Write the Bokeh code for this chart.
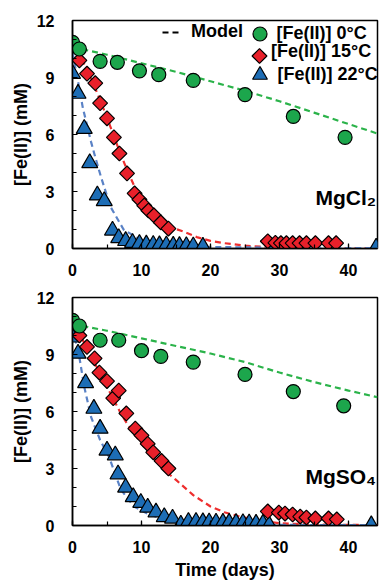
import math
from bokeh.plotting import figure
from bokeh.models import Legend, LegendItem, FixedTicker, Label, Range1d
from bokeh.layouts import column
from bokeh.embed import file_html
from bokeh.resources import INLINE

FONT = "Liberation Sans"

# ---------------- data ----------------
X_TICKS = [0, 10, 20, 30, 40]
X_MINOR = [0, 5, 10, 15, 20, 25, 30, 35, 40]
Y_TICKS = [0, 3, 6, 9, 12]
Y_MINOR = [0, 1, 2, 3, 4, 5, 6, 7, 8, 9, 10, 11, 12]

# MgCl2 panel
cl_t0 = [0, 1, 4, 6.5, 9.7, 12.5, 17.5, 25, 32, 39.5]
cl_fe0 = [10.85, 10.5, 9.85, 9.8, 9.35, 9.15, 8.85, 8.1, 6.95, 5.85]
cl_t15 = [0, 1, 2.1, 3.3, 4, 5, 6, 6.8, 7.9, 9, 9.7, 10.4, 11, 11.8, 12.8, 13.9,
          28.3, 29.4, 30.2, 31, 31.9, 32.9, 33.9, 35.2, 37.1, 38.2]
cl_fe15 = [10.85, 9.9, 9.2, 8.7, 7.65, 6.85, 5.85, 5.0, 3.95, 2.9, 2.58, 2.26, 2.0, 1.74, 1.37, 1.05,
           0.38, 0.3, 0.28, 0.28, 0.28, 0.28, 0.28, 0.28, 0.28, 0.28]
cl_t22 = [0, 0.8, 1.7, 2.5, 3.6, 4.6, 5.8, 6.7, 7.7, 8.7, 9.7, 10.7, 11.7, 12.6, 13.6, 14.6,
          15.5, 16.5, 17.5, 18.9, 29, 44]
cl_fe22 = [9.2, 8.15, 6.3, 4.5, 2.8, 2.5, 0.95, 0.55, 0.4, 0.3, 0.25, 0.22, 0.2, 0.18, 0.17, 0.15,
           0.14, 0.13, 0.12, 0.1, 0.05, 0.05]
cl_m0_t = [0, 5, 10, 15, 20, 25, 30, 35, 40, 44.2]
cl_m0 = [10.6, 10.2, 9.75, 9.3, 8.8, 8.3, 7.75, 7.15, 6.55, 6.05]
cl_m15_t = [0, 1, 2, 3, 4, 5, 6, 7, 8, 9, 10, 11, 12, 13, 14, 16, 18, 20, 22, 25, 28, 32, 36, 44.2]
cl_m15 = [10.9, 10.2, 9.5, 8.7, 7.8, 6.9, 5.9, 4.95, 4.05, 3.25, 2.6, 2.1, 1.7, 1.4, 1.15, 0.9,
          0.6, 0.4, 0.28, 0.15, 0.08, 0.04, 0.03, 0.02]
cl_m22_t = [0, 0.8, 1.5, 2.7, 3.3, 4.1, 5.5, 7.4, 9.4, 12, 15, 20, 30, 44.2]
cl_m22 = [10.3, 8.8, 7.4, 5.6, 4.8, 3.8, 2.2, 1.0, 0.55, 0.3, 0.15, 0.08, 0.04, 0.02]

# MgSO4 panel
so_t0 = [0, 1, 4, 6.7, 10, 12.8, 17.5, 25, 32, 39.3]
so_fe0 = [10.8, 10.5, 9.75, 9.75, 9.2, 8.9, 8.6, 7.95, 7.05, 6.3]
so_t15 = [0, 1, 2.1, 3.2, 3.9, 5, 5.9, 6.7, 7.8, 9.1, 10, 10.9, 11.7, 12.9, 13.9,
          28.3, 29.9, 30.8, 31.9, 33, 33.9, 35.2, 37.1, 38.3]
so_fe15 = [10.75, 10.0, 9.4, 8.8, 8.05, 7.6, 6.7, 7.1, 5.9, 5.1, 4.74, 4.3, 3.85, 3.4, 3.0,
           0.74, 0.68, 0.63, 0.58, 0.47, 0.42, 0.37, 0.37, 0.32]
so_t22 = [0, 0.8, 1.9, 3.1, 4, 5, 6.2, 6.6, 7.7, 8.8, 9.9, 10.9, 12.1, 13.3, 14.5, 15.7, 16.8,
          17.9, 18.9, 19.8, 20.8, 21.8, 22.7, 23.7, 24.7, 25.6, 26.6, 27.6, 28.5, 43.3]
so_fe22 = [9.9, 9.05, 7.5, 6.15, 5.1, 3.95, 3.7, 2.7, 2.0, 1.5, 1.2, 0.95, 0.7, 0.45, 0.37, 0.05, 0.2,
           0.2, 0.18, 0.17, 0.16, 0.15, 0.15, 0.14, 0.13, 0.12, 0.1, 0.1, 0.02, 0.02]
so_m0_t = [0, 5, 10, 15, 20, 25, 30, 35, 40, 44.2]
so_m0 = [10.6, 10.25, 9.85, 9.45, 9.05, 8.6, 8.05, 7.55, 7.1, 6.75]
so_m15_t = [0, 1, 2, 3, 4, 5, 6, 7, 8, 9, 10, 11, 12, 13, 14, 15, 17.5, 20, 22, 24, 27, 30, 35, 44.2]
so_m15 = [10.8, 10.1, 9.4, 8.7, 8.0, 7.3, 6.6, 5.9, 5.3, 4.8, 4.3, 3.85, 3.45, 3.05, 2.7, 2.4,
          1.6, 1.0, 0.7, 0.5, 0.25, 0.12, 0.05, 0.02]
so_m22_t = [0, 1, 1.7, 2.7, 4, 5.3, 7, 8.9, 11, 13, 16, 20, 25, 30, 44.2]
so_m22 = [10.4, 8.85, 7.3, 5.7, 4.5, 3.6, 1.9, 1.0, 0.6, 0.35, 0.2, 0.12, 0.06, 0.03, 0.02]

LEGEND_LABELS = ["[Fe(II)] 0°C", "[Fe(II)] 15°C", "[Fe(II)] 22°C"]

GREEN = "#1ca64c"
RED = "#e8202a"
BLUE = "#1d6db5"
GREEN_L = "#2bb34a"
RED_L = "#ee2e2e"
BLUE_L = "#5a82c6"

FRAME_W = 305
FRAME_H = 228
NAN = float("nan")


def make_panel(height, top, bottom, series, salt, salt_y, xlabel=None, legend=False):
    p = figure(width=384, height=height, x_range=Range1d(0, 44.2), y_range=Range1d(0, 12),
               output_backend="svg", toolbar_location=None,
               min_border_left=72, min_border_right=7, min_border_top=top, min_border_bottom=bottom)
    p.xgrid.visible = False
    p.ygrid.visible = False
    p.outline_line_color = "black"
    p.outline_line_width = 1.5
    p.outline_line_alpha = 1
    p.background_fill_color = "white"
    p.border_fill_color = "white"

    for ax in (p.xaxis[0], p.yaxis[0]):
        ax.axis_line_color = "black"
        ax.axis_line_width = 1.5
        ax.major_tick_in = 5
        ax.major_tick_out = 0
        ax.minor_tick_in = 4
        ax.minor_tick_out = 0
        ax.major_tick_line_width = 1.2
        ax.minor_tick_line_width = 1.2
        ax.major_label_text_font = FONT
        ax.major_label_text_font_style = "bold"
        ax.major_label_text_font_size = "16px"
        ax.major_label_text_color = "black"
        ax.axis_label_text_font = FONT
        ax.axis_label_text_font_style = "bold"
        ax.axis_label_text_font_size = "18px"
        ax.axis_label_text_color = "black"
    p.xaxis.ticker = FixedTicker(ticks=X_TICKS, minor_ticks=X_MINOR)
    p.yaxis.ticker = FixedTicker(ticks=Y_TICKS, minor_ticks=Y_MINOR)
    p.yaxis.major_label_standoff = 18
    p.xaxis.major_label_standoff = 15
    p.yaxis.axis_label = "[Fe(II)] (mM)"
    p.yaxis.axis_label_standoff = 3
    if xlabel:
        p.xaxis.axis_label = xlabel
        p.xaxis.axis_label_standoff = 4

    (m0t, m0), (m15t, m15), (m22t, m22), (t0, f0), (t15, f15), (t22, f22) = series
    p.line(m0t, m0, line_color=GREEN_L, line_width=2.2, line_dash="6 4")
    p.line(m15t, m15, line_color=RED_L, line_width=2.2, line_dash="6 4")
    p.line(m22t, m22, line_color=BLUE_L, line_width=2.2, line_dash="6 4")

    r22 = p.scatter(t22, f22, marker="triangle", size=16, fill_color=BLUE,
                    line_color="black", line_width=1.2)
    p.scatter(t15, f15, marker="square", size=10.5, angle=math.pi / 4, fill_color=RED,
              line_color="black", line_width=1.2)
    r0 = p.scatter(t0, f0, marker="circle", size=14, fill_color=GREEN,
                   line_color="black", line_width=1.2)

    p.add_layout(Label(x=44, y=salt_y, text=salt, text_align="right", text_baseline="alphabetic",
                       text_font=FONT, text_font_style="bold", text_font_size="21px",
                       text_color="black"))

    if legend:
        model_r = p.line([NAN], [NAN], line_color="black", line_width=2.2, line_dash="6 4")
        dummy_r = p.scatter([NAN], [NAN], marker="square", size=1, fill_alpha=0, line_alpha=0)

        def mk(items, vx, vy, gw, gh, standoff):
            lg = Legend(items=items, location=(vx, vy), glyph_width=gw, glyph_height=gh,
                        label_standoff=standoff, padding=0, margin=0, spacing=0,
                        label_height=10, label_width=10,
                        background_fill_alpha=0, border_line_alpha=0,
                        label_text_font=FONT, label_text_font_style="bold",
                        label_text_font_size="18px", label_text_color="black")
            p.add_layout(lg)

        mk([LegendItem(label="Model", renderers=[model_r])], 90, 206, 20, 20, 9)
        mk([LegendItem(label=LEGEND_LABELS[0], renderers=[r0])], 169.5, 197.5, 35, 35, -5)
        mk([LegendItem(label=LEGEND_LABELS[1], renderers=[dummy_r])], 179, 186, 20, 20, 0)
        mk([LegendItem(label=LEGEND_LABELS[2], renderers=[r22])], 168.5, 155, 37, 37, -6)

        # rotated-square key for the 15 °C entry, placed in frame-pixel space
        p.extra_x_ranges = {"lx": Range1d(0, FRAME_W)}
        p.extra_y_ranges = {"ly": Range1d(0, FRAME_H)}
        p.scatter([187], [192.5], x_range_name="lx", y_range_name="ly",
                  marker="square", size=10.5, angle=math.pi / 4, fill_color=RED,
                  line_color="black", line_width=1.2)
    return p


p1 = make_panel(288, 20, 40,
                [(cl_m0_t, cl_m0), (cl_m15_t, cl_m15), (cl_m22_t, cl_m22),
                 (cl_t0, cl_fe0), (cl_t15, cl_fe15), (cl_t22, cl_fe22)],
                "MgCl₂", 2.7, legend=True)
p2 = make_panel(294, 9, 57,
                [(so_m0_t, so_m0), (so_m15_t, so_m15), (so_m22_t, so_m22),
                 (so_t0, so_fe0), (so_t15, so_fe15), (so_t22, so_fe22)],
                "MgSO₄", 2.6, xlabel="Time (days)")

layout = column(p1, p2, spacing=0)
open("out.html", "w").write(file_html(layout, INLINE))
